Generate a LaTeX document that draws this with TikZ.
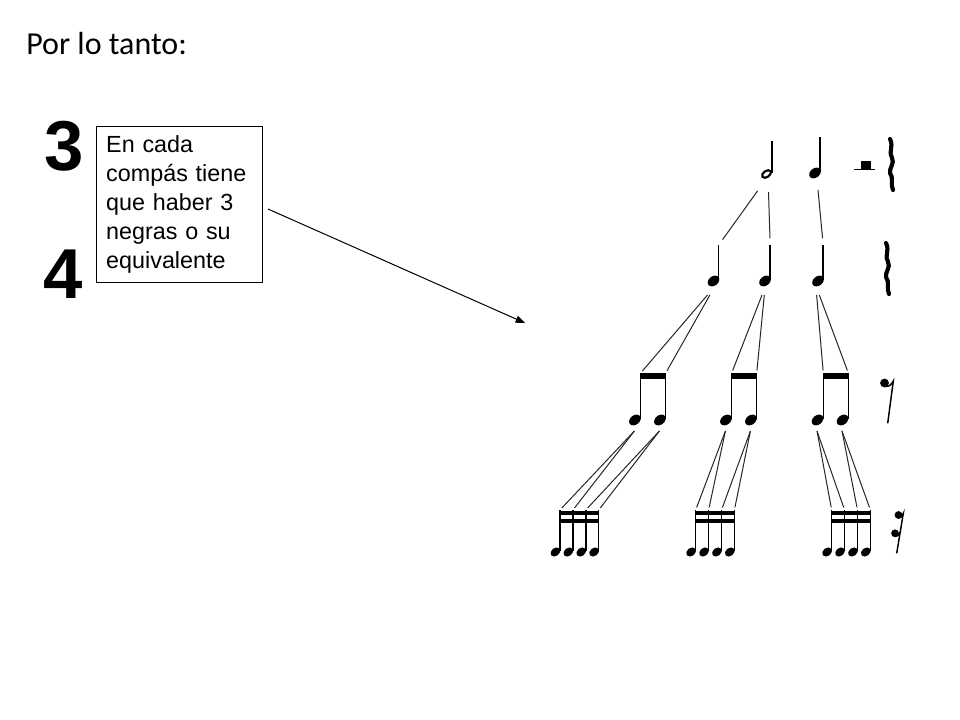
\documentclass[tikz,border=0pt]{standalone}
\usepackage{fontspec}
\setmainfont{Liberation Sans}
\newfontfamily\titulo{Carlito}
\usetikzlibrary{shapes.geometric,arrows.meta}

\begin{document}
\begin{tikzpicture}[x=0.75pt,y=-0.75pt]
        \tikzstyle{every node} = [inner sep=0pt]
        \tikzstyle{negra} = [ellipse, fill, minimum width=9.6pt, minimum height=7pt, rotate=38]
        \tikzstyle{semi} = [ellipse, fill, minimum width=8pt, minimum height=6pt, rotate=38]
        \tikzstyle{blanca} = [ellipse, draw, line width=1.6pt, minimum width=7.4pt, minimum height=4.6pt, rotate=35]
        \tikzstyle{plica} = [line width=1.1pt]
        \tikzstyle{rama} = [line width=0.75pt, black!85, shorten >=2pt]
        \tikzstyle{silencio} = [line width=3.1pt, line cap=round, line join=round]
        \useasboundingbox (0,0) rectangle (960,720);

        \node[anchor=base west] (titulo) at (26,55) {\titulo\fontsize{24}{28}\selectfont Por lo tanto:};
        \node[anchor=base] (num) at (64.5,171) {\fontsize{53}{60}\selectfont\bfseries 3};
        \node[anchor=base] (den) at (63.5,298) {\fontsize{53}{60}\selectfont\bfseries 4};
        \node[draw, line width=0.75pt, anchor=north west, minimum width=124.5pt, minimum height=117pt,
              inner xsep=7.3pt, text width=110pt, align=left, font=\fontsize{17.5}{21.6}\selectfont] (caja) at (96,126)
              {En cada\\compás tiene\\que haber 3\\negras o su\\equivalente};

        \coordinate (ini) at (268,209);
        \coordinate (fin) at (525,323);
        \draw[-{Triangle[length=7pt,width=5.5pt]}, line width=0.75pt] (ini) -- (fin);

        % blanca y negra
        \node[blanca] (b) at (766.5,174) {};
        \draw[plica] (b) ++(5.6,-1) -- ++(0,-32) coordinate (bt);
        \node[negra] (q) at (815,173) {};
        \draw[plica] (q) ++(5.2,-1) -- ++(0,-35) coordinate (qt);
        \fill (860.5,161) rectangle (870.5,169);
        \draw[line width=0.9pt] (854,169.5) -- (875,169.5);
        \foreach \dx/\dy in {0/0, -4/104} {
            \draw[silencio, shift={(\dx,\dy)}] (890,139) .. controls (894,147) and (888,152) .. (892,158)
                .. controls (895,163) and (889,168) .. (890,173) .. controls (894,178) and (890,184) .. (893,190);
        }

        % negras
        \foreach \i/\x in {1/713.5, 2/765, 3/818} {
            \node[negra] (n\i) at (\x,281) {};
            \draw[plica] (n\i) ++(5.2,-1) -- ++(0,-35) coordinate (n\i t);
        }
        \draw[rama, shorten >=5pt] (b) ++(-9,17) -- (n1t);
        \draw[rama, shorten >=5pt] (b) ++(2,18) -- (n2t);
        \draw[rama, shorten >=5pt] (q) ++(3,17) -- (n3t);

        % corcheas
        \foreach \i/\x in {1/640.7, 2/731.7, 3/823.3} {
            \node[negra] (c\i a) at (\x-5.8,420) {};
            \node[negra] (c\i b) at (\x+19.2,420) {};
            \draw[plica] (\x,419) -- (\x,373) coordinate (c\i at);
            \draw[plica] (\x+25,419) -- (\x+25,373) coordinate (c\i bt);
            \draw[line width=3.8pt] (\x-0.4,376) -- (\x+25.4,376);
        }
        \draw[rama] (n1) ++(-6,14) -- (c1at);
        \draw[rama] (n1) ++(-3.6,14) -- (c1bt);
        \draw[rama] (n2) ++(-3,14) -- (c2at);
        \draw[rama] (n2) ++(-0.7,14) -- (c2bt);
        \draw[rama] (n3) ++(-1.4,14) -- (c3at);
        \draw[rama] (n3) ++(1.3,14) -- (c3bt);
        \fill (884.5,383) circle (4.4);
        \draw[plica] (885,386.5) .. controls (889,387) and (891.5,384.5) .. (893.3,381) -- (887.7,423.3);

        % semicorcheas
        \foreach \i/\x in {1/560, 2/695.7, 3/831.7} {
            \foreach \k in {1,...,4} {
                \node[semi] (s\i\k) at (\x+12.9*\k-12.9-4.6,552) {};
                \draw[plica] (\x+12.9*\k-12.9,551) -- (\x+12.9*\k-12.9,510) coordinate (s\i\k t);
            }
            \draw[line width=3pt] (\x-0.4,513) -- (\x+39.1,513);
            \draw[line width=3pt] (\x-0.4,520.5) -- (\x+39.1,520.5);
            \draw[rama] (c\i a) ++(-0.5,11) -- (s\i1t);
            \draw[rama] (c\i a) ++(-0.5,11) -- (s\i2t);
            \draw[rama] (c\i b) ++(-0.5,11) -- (s\i3t);
            \draw[rama] (c\i b) ++(-0.5,11) -- (s\i4t);
        }
        \fill (898.5,515) circle (3.9);
        \fill (895,533.3) circle (3.9);
        \draw[plica] (898.5,518) .. controls (901,518) and (902.5,516) .. (903.3,513.3) -- (896.7,553.3);
        \draw[plica] (895,536.5) .. controls (897.5,536.5) and (899,535) .. (900.2,532);
\end{tikzpicture}
\end{document}
